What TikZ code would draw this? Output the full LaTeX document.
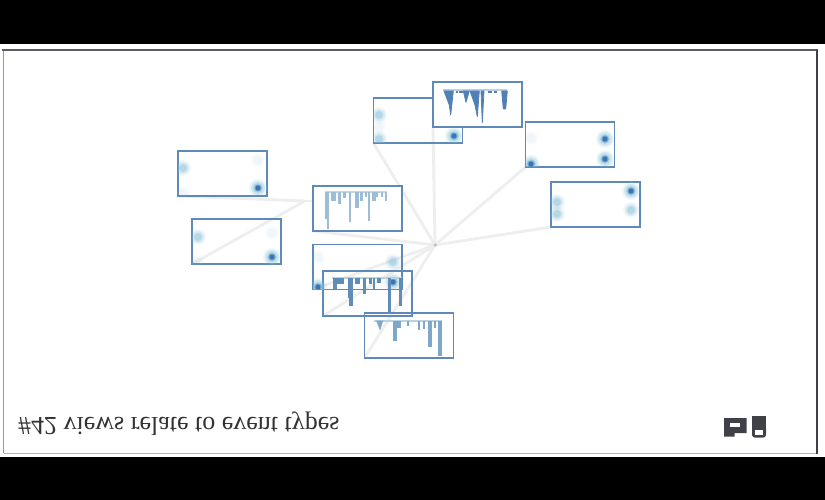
\documentclass[tikz,border=0pt]{standalone}
\usepackage{fontspec}
\setmainfont{Liberation Serif}
\definecolor{edgeb}{HTML}{5E89B8}
\definecolor{linkc}{HTML}{EEEEEE}
\definecolor{iconc}{HTML}{3F4048}
\definecolor{blobo}{HTML}{8CC4DA}
\definecolor{blobi}{HTML}{2F6DB0}
\definecolor{barB}{HTML}{9DBDD6}
\definecolor{barT}{HTML}{5180B6}
\definecolor{barH}{HTML}{5F8DB8}
\definecolor{barI}{HTML}{7FA7C9}
\tikzset{
  viewbox/.style={minimum width=89pt,minimum height=45pt,inner sep=0pt,outer sep=0pt},
  frame/.style={draw=edgeb,line width=1.8pt},
  link/.style={draw=linkc,line width=2.8pt},
  hubdot/.style={circle,fill=gray!50,inner sep=0pt,minimum size=3.5pt},
}
% strong, medium and faint heat spots, made of stacked discs
\newcommand{\blobS}[2]{%
  \fill[blobo,opacity=.15] (#1,#2) circle (9);
  \fill[blobo,opacity=.3] (#1,#2) circle (7);
  \fill[blobo,opacity=.5] (#1,#2) circle (5);
  \fill[blobi,opacity=.45] (#1,#2) circle (3.6);
  \fill[blobi,opacity=.85] (#1,#2) circle (2.4);}
\newcommand{\blobM}[2]{%
  \fill[blobo,opacity=.12] (#1,#2) circle (8);
  \fill[blobo,opacity=.25] (#1,#2) circle (6);
  \fill[blobo,opacity=.45] (#1,#2) circle (4);}
\newcommand{\blobF}[2]{%
  \fill[blobo,opacity=.05] (#1,#2) circle (7);
  \fill[blobo,opacity=.08] (#1,#2) circle (5);}
\newcommand{\clipbox}[1]{\clip (#1.south west) rectangle (#1.north east);}
\begin{document}
\begin{tikzpicture}[x=1pt,y=-1pt]
\useasboundingbox (0,0) rectangle (825,500);
\fill[black] (0,0) rectangle (825,500);
\fill[white] (0,44) rectangle (825,456.5);
\draw[gray!60,line width=1pt] (3.5,453) -- (817,453);
\draw[gray!80,line width=1pt] (3.5,50) -- (3.5,453);
\draw[iconc!85,line width=2pt] (2,50) -- (818,50);
\draw[iconc,line width=1.2pt] (817,50) -- (817,454);
% hub and junction
\node[hubdot] (hub) at (435,245) {};
\coordinate (junc) at (305,201);
% boxes (frames are stroked after the links)
\node[viewbox] (a) at (418,120.5) {};
\node[viewbox] (t) at (477.5,104.5) {};
\node[viewbox] (c) at (570,144.5) {};
\node[viewbox] (d) at (595.5,204.5) {};
\node[viewbox] (e) at (222.5,173.5) {};
\node[viewbox] (f) at (236.5,241.5) {};
\node[viewbox] (b) at (357.5,208.5) {};
\node[viewbox] (g) at (357.5,267) {};
\node[viewbox] (h) at (367.5,293.5) {};
\node[viewbox] (i) at (409,335.5) {};
% connectors
\path[link] (a.south west) -- (hub);
\path[link] (t.south west) -- (hub);
\path[link] (c.south west) -- (hub);
\path[link] (d.south west) -- (hub);
\path[link] (b.south west) -- (hub);
\path[link] (g.south west) -- (hub);
\path[link] (h.south west) -- (hub);
\path[link] (i.south west) -- (hub);
\path[link] (e.south west) -- (junc);
\path[link] (f.south west) -- (junc);
\path[link] (junc) -- (b.west |- junc);
\node[hubdot] at (hub) {};
% frames
\fill[white] (b.south west) rectangle (b.north east);
\foreach \n in {a,c,d,e,f,b,g,h,i} {\draw[frame] (\n.south west) rectangle (\n.north east);}
% heat spots
\begin{scope}\clipbox{a}\blobM{379}{115}\blobF{379}{127}\blobM{379}{139}\blobS{454}{136}\end{scope}
\begin{scope}\clipbox{e}\blobM{183}{168}\blobF{183}{193}\blobS{258}{188}\blobF{258}{160}\end{scope}
\begin{scope}\clipbox{f}\blobM{198}{237}\blobF{197}{262}\blobS{272}{257}\blobF{272}{233}\end{scope}
\begin{scope}\clipbox{g}\blobF{318}{257}\blobM{393}{262}\blobS{318}{287}\blobS{393}{282}\end{scope}
\begin{scope}\clipbox{c}\blobF{531}{138}\blobS{531}{164}\blobS{605}{139}\blobS{605}{159}\end{scope}
\begin{scope}\clipbox{d}\blobM{557}{202}\blobM{557}{214}\blobS{631}{191}\blobM{631}{210}\end{scope}
% top box, opaque, over box a
\fill[white] (t.south west) rectangle (t.north east);
\draw[frame] (t.south west) rectangle (t.north east);
% box b spikes
\fill[barB!60] (325,191.5) rectangle (387,193.5);
\foreach \xa/\xb/\yb in {325/328/218.5,327/328/228,331.7/335/200,338.3/340.7/203.3,343.3/345.7/197.7,349/350/221.7,355/358.3/207.3,360/362.7/200,365/366/196.7,368/369/220,372.3/375/200,376.5/377.3/196,381.5/382.3/196,385/386.7/200}
  {\filldraw[barB,line width=.5pt] (\xa,192.5) rectangle (\xb,\yb);}
% top box spikes
\fill[barB!70] (443,89) rectangle (507,91.5);
\begin{scope}[line width=.8pt,line join=round]
\filldraw[barT] (444,91)--(453.3,91)--(450.7,115)--(449.3,105)--cycle;
\filldraw[barT] (463.3,91)--(469.3,91)--(466,102.3)--cycle;
\filldraw[barT] (470,91)--(479.3,91)--(477.3,116.7)--(475,105)--cycle;
\filldraw[barT] (481,91)--(484,91)--(482.3,122.7)--cycle;
\filldraw[barT] (501.7,91)--(507.3,91)--(505.7,109)--(503.3,109)--cycle;
\end{scope}
\foreach \xa/\xb in {456/458,459.3/462.7,488.3/491.7,494/497.3} {\fill[barT] (\xa,91) rectangle (\xb,93);}
% box h spikes
\fill[barB!70] (332,277) rectangle (402,279);
\foreach \xa/\xb/\yb in {333.3/336/288.3,336.7/343.3/283.3,347.7/351.7/296.7,349/351.7/305,355/359.3/283.3,363.3/365/293.3,369/370.7/283.3,372.7/374/289.3,377.3/380/281.7,388.3/390.3/312.7,399/401/305}
  {\filldraw[barH,line width=.4pt] (\xa,278) rectangle (\xb,\yb);}
% box i spikes
\fill[barB!70] (374,320) rectangle (442,322);
\filldraw[barI,line width=.8pt] (376.7,321)--(382.7,321)--(380,329.3)--cycle;
\foreach \xa/\xb/\yb in {393.3/395.7/340,397.3/400/326.7,407/408/325,418/419/329.3,423/424/328.3,428.3/430.7/346,434/435/326.7,438.3/440.7/355}
  {\filldraw[barI,line width=.4pt] (\xa,321) rectangle (\xb,\yb);}
% caption, printed upside down
\node[anchor=west,inner sep=0pt,text=black!80,yscale=-1,font=\fontsize{26pt}{28pt}\selectfont] (cap) at (18,424) {\#42 views relate to event types};
% icons
\fill[iconc] (724,418) rectangle (746.7,433) (724,433) rectangle (734.5,436.7);
\fill[white] (730,422.7) rectangle (740,426.7);
\fill[iconc] (752,416) rectangle (766,430);
\fill[iconc,rounded corners=3pt] (752,426) rectangle (766,437.7);
\fill[white] (755,429.5) rectangle (762.7,435);
\end{tikzpicture}
\end{document}
